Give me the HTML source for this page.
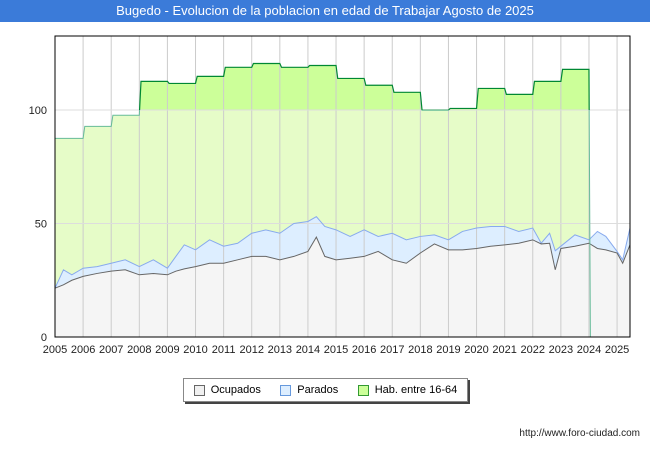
<!DOCTYPE html>
<html><head><meta charset="utf-8"><style>
body{margin:0;width:650px;height:450px;background:#fff;font-family:"Liberation Sans",sans-serif;overflow:hidden;position:relative}
#title{position:absolute;left:0;top:0;width:650px;height:22px;background:#3b7bd9;color:#fff;font-size:13px;line-height:22px;text-align:center}
#legend{position:absolute;left:183px;top:378px;width:283px;height:22px;border:1px solid #888;box-shadow:2px 2px 0 #444;background:#fff;font-size:11px;display:flex;align-items:center;justify-content:space-around}
.li{display:flex;align-items:center;gap:6px}.sw{width:9px;height:9px;border:1px solid #666}
#url{position:absolute;right:10px;top:428px;font-size:10px;color:#222}
</style></head><body>
<div id="title">Bugedo - Evolucion de la poblacion en edad de Trabajar Agosto de 2025</div>
<svg id="chart" width="650" height="450" style="position:absolute;left:0;top:0"></svg>
<div id="legend">
<div class="li"><div class="sw" style="background:#f0f0f0"></div>Ocupados</div>
<div class="li"><div class="sw" style="background:#ddeeff;border-color:#6699dd"></div>Parados</div>
<div class="li"><div class="sw" style="background:#ccff99;border-color:#339933"></div>Hab. entre 16-64</div>
</div>
<div id="url">http://www.foro-ciudad.com</div>
<script>
const years=[2005,2006,2007,2008,2009,2010,2011,2012,2013,2014,2015,2016,2017,2018,2019,2020,2021,2022,2023];
const hab=[87.5,92.8,97.7,112.6,111.7,114.8,118.8,120.5,118.8,119.6,113.9,110.9,107.8,99.9,100.7,109.5,106.9,112.6,117.9];
const times=[2005.0,2005.3,2005.6,2006.0,2006.5,2007.0,2007.5,2008.0,2008.5,2009.0,2009.3,2009.6,2010.0,2010.5,2011.0,2011.5,2012.0,2012.5,2013.0,2013.5,2014.0,2014.3,2014.6,2015.0,2015.5,2016.0,2016.5,2017.0,2017.5,2018.0,2018.5,2019.0,2019.5,2020.0,2020.5,2021.0,2021.5,2022.0,2022.3,2022.6,2022.8,2023.0,2023.5,2024.0,2024.3,2024.6,2025.0,2025.2,2025.46];
const ocupados=[21.5,23,25,26.7,28,29,29.6,27.4,28,27.4,29,30,31,32.5,32.5,34,35.5,35.5,34,35.5,37.7,44,35.5,34,34.7,35.5,37.7,34,32.5,37,41,38.4,38.4,39,40,40.6,41.3,42.8,41,41.3,29.6,39,40,41.3,39,38.4,37,32.5,40.6];
const parados=[0,6.6,2.4,3.6,3,3.5,4.4,3.6,6,2.9,6.5,10.6,7.4,10.3,7.5,7.3,10.2,11.7,11.7,14.5,13.2,9,13.2,13.2,9.6,11.7,6.6,11.7,10.3,7.3,4,4.4,8.1,9,8.7,8.1,5.2,5.2,0.3,4.4,8.4,1,5,1.5,7.5,5.9,0.7,1.5,7.4];
const yTicks=[0,50,100];
const xTicks=[2005,2006,2007,2008,2009,2010,2011,2012,2013,2014,2015,2016,2017,2018,2019,2020,2021,2022,2023,2024,2025];
const L=55,R=630,T=36,B=337,X0=2005,X1=2025.46,YMAX=132.6;
const sx=t=>L+(t-X0)/(X1-X0)*(R-L);
const sy=v=>B-v/YMAX*(B-T);
const svg=document.getElementById('chart');const NS='http://www.w3.org/2000/svg';
function mk(tag,a,parent){const e=document.createElementNS(NS,tag);for(const k in a)e.setAttribute(k,a[k]);(parent||svg).appendChild(e);return e;}
const defs=mk('defs',{});
const cp=mk('clipPath',{id:'above'},defs);mk('rect',{x:L,y:T,width:R-L,height:sy(100)-T},cp);
const cb=mk('clipPath',{id:'below'},defs);mk('rect',{x:L,y:sy(100),width:R-L,height:B-sy(100)},cb);
// hab path
let hp=[];hp.push([sx(years[0]),sy(hab[0])]);
for(let i=0;i<years.length;i++){if(i>0)hp.push([sx(years[i]+0.06),sy(hab[i])]);hp.push([sx(years[i]+1),sy(hab[i])]);}
hp.push([sx(years[years.length-1]+1.05),sy(0)]);
const hline='M'+hp.map(p=>p.join(',')).join('L');
const harea=hline+`L${sx(years[0])},${sy(0)}Z`;
let e=mk('path',{d:harea,fill:'#e6fcc8'});


e=mk('path',{d:harea,fill:'#ccff99','clip-path':'url(#above)'});


// parados stacked
const tot=ocupados.map((o,i)=>o+parados[i]);
const topLine=times.map((t,i)=>sx(t)+','+sy(tot[i])).join('L');
const occLine=times.map((t,i)=>sx(t)+','+sy(ocupados[i])).join('L');
e=mk('path',{d:'M'+topLine+`L${sx(times[times.length-1])},${sy(0)}L${sx(times[0])},${sy(0)}Z`,fill:'#ddeeff'});


e=mk('path',{d:'M'+occLine+`L${sx(times[times.length-1])},${sy(0)}L${sx(times[0])},${sy(0)}Z`,fill:'#f5f5f5'});


// grid
xTicks.forEach(t=>{const g=mk('line',{x1:sx(t),x2:sx(t),y1:T,y2:B,stroke:'#cccccc','stroke-width':1});


const tx=mk('text',{x:sx(t),y:B+16,'text-anchor':'middle','font-size':11,fill:'#222'});tx.textContent=t;

});
yTicks.forEach(v=>{if(v>0){const g=mk('line',{x1:L,x2:R,y1:sy(v),y2:sy(v),stroke:'#dddddd','stroke-width':1});

}
const tx=mk('text',{x:L-8,y:sy(v)+4,'text-anchor':'end','font-size':11,fill:'#222'});tx.textContent=v;

});
// lines
e=mk('path',{d:'M'+topLine,fill:'none',stroke:'#88aaee','stroke-width':1});


e=mk('path',{d:'M'+occLine,fill:'none',stroke:'#666','stroke-width':1});


e=mk('path',{d:hline,fill:'none',stroke:'#008833','stroke-width':1.2,'clip-path':'url(#above)'});


e=mk('path',{d:hline,fill:'none',stroke:'#66bb99','stroke-width':1,'clip-path':'url(#below)'});


e=mk('rect',{x:L,y:T,width:R-L,height:B-T,fill:'none',stroke:'#000','stroke-width':1});


</script>
</body></html>
